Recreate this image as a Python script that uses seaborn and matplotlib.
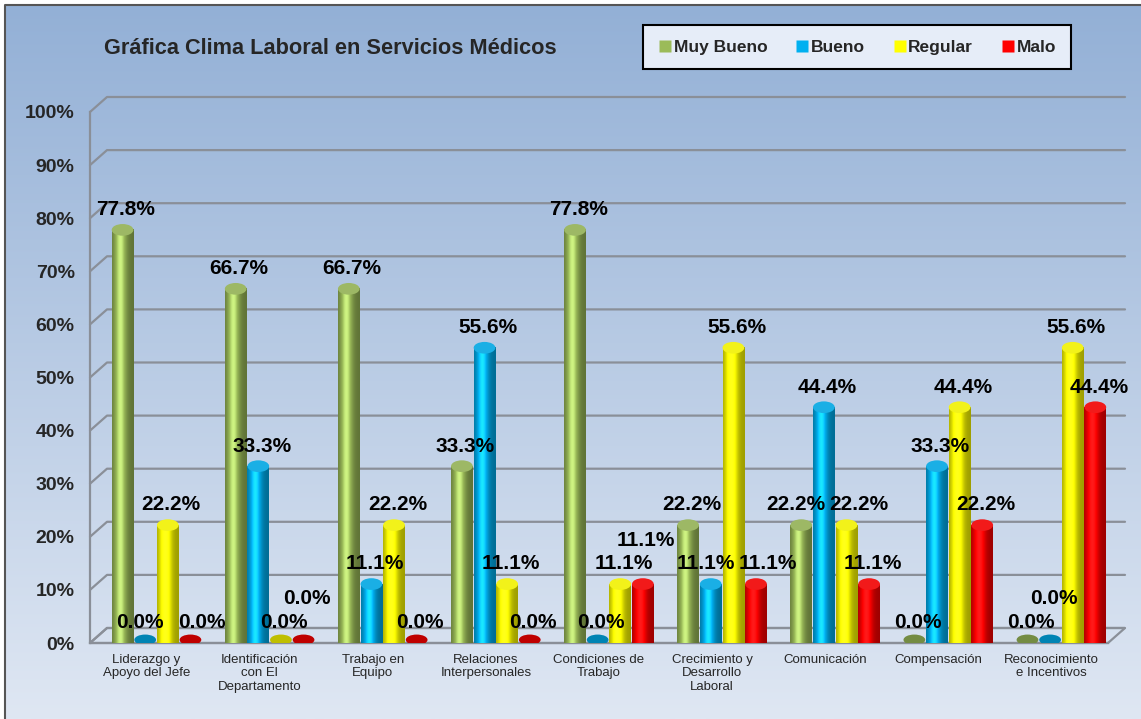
import numpy as np
import pandas as pd
import matplotlib
matplotlib.use("Agg")
import matplotlib.pyplot as plt
import seaborn as sns
from matplotlib.patches import Ellipse, Polygon
from matplotlib.lines import Line2D
from matplotlib.colors import to_rgb

# data
categories = [
    "Liderazgo y\nApoyo del Jefe",
    "Identificación\ncon El\nDepartamento",
    "Trabajo en\nEquipo",
    "Relaciones\nInterpersonales",
    "Condiciones de\nTrabajo",
    "Crecimiento y\nDesarrollo\nLaboral",
    "Comunicación",
    "Compensación",
    "Reconocimiento\ne Incentivos",
]
series = ["Muy Bueno", "Bueno", "Regular", "Malo"]
muy_bueno = [77.8, 66.7, 66.7, 33.3, 77.8, 22.2, 22.2, 0.0, 0.0]
bueno = [0.0, 33.3, 11.1, 55.6, 0.0, 11.1, 44.4, 33.3, 0.0]
regular = [22.2, 0.0, 22.2, 11.1, 11.1, 55.6, 22.2, 44.4, 55.6]
malo = [0.0, 0.0, 0.0, 0.0, 11.1, 11.1, 11.1, 22.2, 44.4]
colors = ["#9bbb59", "#00b0f0", "#ffff00", "#ff0000"]
yticks = [0, 10, 20, 30, 40, 50, 60, 70, 80, 90, 100]

rows = []
for s, vals in zip(series, [muy_bueno, bueno, regular, malo]):
    for c, v in zip(categories, vals):
        rows.append({"cat": c, "serie": s, "valor": v})
df = pd.DataFrame(rows)

sns.set_style("white")
plt.rcParams["font.family"] = ["Liberation Sans", "DejaVu Sans"]

W, H = 1141, 719
fig = plt.figure(figsize=(W / 100, H / 100), dpi=100)
fig.patch.set_facecolor("white")

# background gradient of the chart area
bg = fig.add_axes([0, 0, 1, 1])
top_c = np.array(to_rgb("#93b0d6"))
bot_c = np.array(to_rgb("#dfe7f3"))
t = np.linspace(0, 1, 256)[:, None]
grad = top_c * (1 - t) + bot_c * t
bg.imshow(grad[:, None, :], extent=[5 / W, 1, 0, 1 - 5 / H], aspect="auto")
bg.plot([5 / W, 5 / W, 1], [0, 1 - 5 / H, 1 - 5 / H], color="#555555", lw=1.5)
bg.set_xlim(0, 1)
bg.set_ylim(0, 1)
bg.axis("off")

ax = fig.add_axes([90 / W, (H - 643) / H, (1108 - 90) / W, (643 - 112) / H])
ax.patch.set_alpha(0)

sns.barplot(data=df, x="cat", y="valor", hue="serie", palette=colors,
            width=0.8, ax=ax, legend=False, zorder=3)

ax.set_xlim(-0.5, len(categories) - 0.5)
ax.set_ylim(0, 100)

# 3D-ish back wall grid
dx = 17 / (1108 - 90)
dy = 15 / (643 - 112) * 100
tr = ax.get_yaxis_transform()
grid_c = "#8a8f98"
for y in yticks:
    ax.plot([0, dx, 1 + dx], [y, y + dy, y + dy], color=grid_c, lw=1.6,
            transform=tr, clip_on=False, zorder=1)
floor = Polygon([[0, 0], [1, 0], [1 + dx, dy], [dx, dy]], closed=True,
                facecolor="none", edgecolor=grid_c, lw=1.6, transform=tr,
                clip_on=False, zorder=1)
ax.add_patch(floor)

# bars sit half way into the depth, so they look shifted right
shift = 0.088
lw_lab = 0.55   # label width in data units
bump = 4.5

# cylinder shading on the bars
prof = np.linspace(0, 1, 60)
shade = 0.62 + 0.55 * np.exp(-((prof - 0.38) / 0.28) ** 2)
cap_h = 2.2
labels = {}
for i, cont in enumerate(ax.containers):
    base = np.array(to_rgb(colors[i]))
    img = np.clip(base[None, :] * shade[:, None], 0, 1)
    img = np.clip(img + (shade[:, None] > 1.0) * (shade[:, None] - 1.0) * 0.6, 0, 1)
    for j, bar in enumerate(cont.patches):
        w = bar.get_width() * 0.96
        x0 = bar.get_x() + bar.get_width() * 0.02 + shift
        h = bar.get_height()
        bar.set_alpha(0)
        if h > 0:
            ax.imshow(img[None, :, :], extent=[x0, x0 + w, 0, h], aspect="auto",
                      zorder=3, interpolation="bilinear")
            ax.add_patch(Ellipse((x0 + w / 2, h), w, cap_h,
                                 facecolor=np.clip(base * 0.85 + 0.1, 0, 1),
                                 edgecolor="none", zorder=4))
            ax.add_patch(Ellipse((x0 + w / 2, 0), w, cap_h,
                                 facecolor=base * 0.7, edgecolor="none", zorder=2))
        else:
            ax.add_patch(Ellipse((x0 + w / 2, 0.6), w, cap_h * 0.9,
                                 facecolor=base * 0.75, edgecolor="none", zorder=4))
        labels.setdefault(j, []).append([x0 + w / 2 + 0.03, h + 2.0, h])

# place data labels, pushing apart the ones that collide
for j, labs in labels.items():
    for a in range(len(labs)):
        for b in range(a):
            xa, ya, _ = labs[a]
            xb, yb, _ = labs[b]
            if abs(ya - yb) < bump and abs(xa - xb) < lw_lab:
                if xa - xb >= 0.35:
                    need = lw_lab - (xa - xb)
                    labs[b][0] -= need / 2
                    labs[a][0] += need / 2
                else:
                    labs[a][1] = yb + bump
    for x, y, v in labs:
        ax.text(x, y, f"{v:.1f}%", ha="center", va="bottom",
                fontsize=15, fontweight="bold", color="black", zorder=6)

ax.set_xlim(-0.5, len(categories) - 0.5)
ax.set_ylim(0, 100)

# axes
ax.set_yticks(yticks)
ax.set_yticklabels([f"{y}%" for y in yticks], fontsize=14, fontweight="bold")
ax.set_xticks(range(len(categories)))
ax.set_xticklabels(categories, fontsize=9.5, linespacing=1.15)
ax.set_xticks(np.arange(0.5, len(categories) - 0.5, 1), minor=True)
ax.tick_params(axis="x", which="major", length=0, pad=8)
ax.tick_params(axis="x", which="minor", length=6, color=grid_c, width=1.5)
ax.tick_params(axis="y", length=5, color=grid_c, width=1.5, pad=6)
ax.set_xlabel("")
ax.set_ylabel("")
for s in ["top", "right"]:
    ax.spines[s].set_visible(False)
for s in ["left", "bottom"]:
    ax.spines[s].set_color(grid_c)
    ax.spines[s].set_linewidth(1.6)

# title
fig.text(104 / W, 1 - 48 / H, "Gráfica Clima Laboral en Servicios Médicos",
         fontsize=15.7, fontweight="bold", va="center", ha="left")

# legend
handles = [Line2D([], [], marker="s", linestyle="none", markersize=8,
                  markerfacecolor=c, markeredgecolor="none") for c in colors]
leg = fig.legend(handles, series, ncol=4, loc="center",
                 bbox_to_anchor=(857 / W, 1 - 47 / H),
                 prop={"size": 12.5, "weight": "bold"}, frameon=True,
                 fancybox=False, handletextpad=0.1, columnspacing=1.6,
                 handlelength=0.8, borderpad=0.85)
leg.get_frame().set_facecolor("#e6edf8")
leg.get_frame().set_edgecolor("black")
leg.get_frame().set_linewidth(1.5)
leg.get_frame().set_alpha(1)

fig.savefig("out.png", dpi=100)
